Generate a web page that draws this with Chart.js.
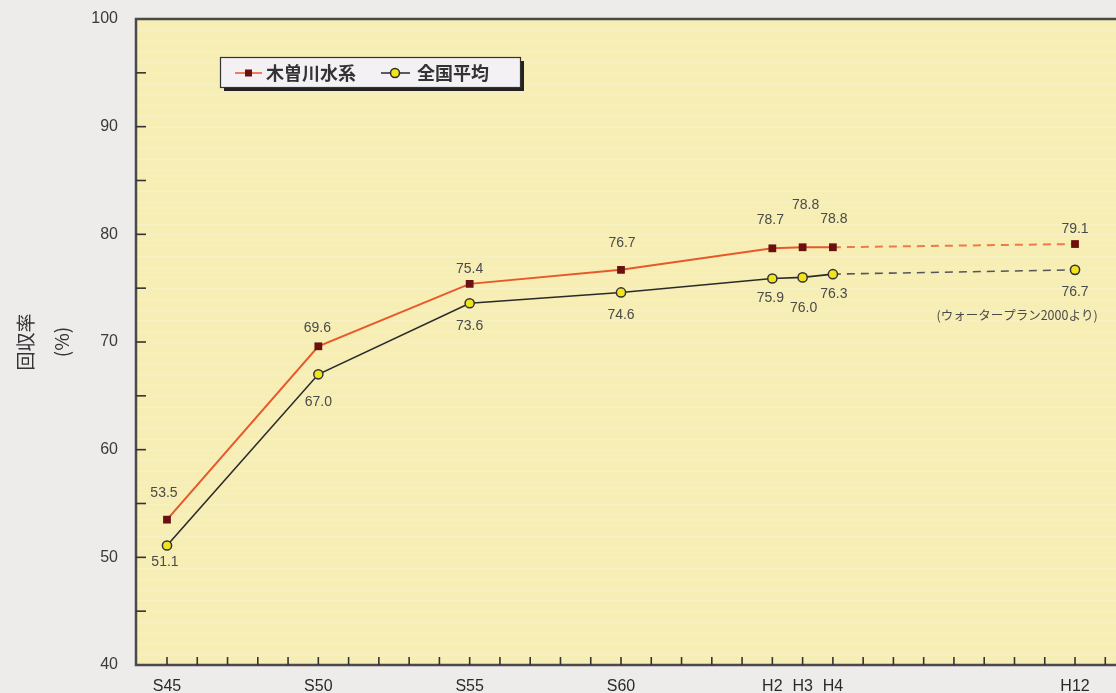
<!DOCTYPE html>
<html>
<head>
<meta charset="utf-8">
<script src="https://cdn.jsdelivr.net/npm/chart.js@4.4.1/dist/chart.umd.min.js"></script>
<style>
  html, body { margin: 0; padding: 0; background: #eeebeb; }
  #wrap { width: 1116px; height: 693px; position: relative; }
</style>
</head>
<body>
<div id="wrap"><canvas id="c"></canvas></div>
<script>
// ---- data ----
const years = [1970, 1975, 1980, 1985, 1990, 1991, 1992, 2000];
const kisoValues = [53.5, 69.6, 75.4, 76.7, 78.7, 78.8, 78.8, 79.1];
const zenkokuValues = [51.1, 67.0, 73.6, 74.6, 75.9, 76.0, 76.3, 76.7];
const seriesNames = ['木曽川水系', '全国平均'];
const tickYears = [1970, 1975, 1980, 1985, 1990, 1991, 1992, 2000];
const tickNames = ['S45', 'S50', 'S55', 'S60', 'H2', 'H3', 'H4', 'H12'];
const yTitle = ['回収率', '(%)'];
const sourceNote = '(ウォータープラン2000より)';

// ---- styling ----
const RED = '#e8582a', RED_DASH = '#ee7a48', RED_MARK = '#6a1010';
const BLK = '#2a2a2a', BLK_DASH = '#555555', YEL = '#f2e41c';
const labelFont = '14px "Liberation Sans", Arial, sans-serif';
const jpFont = '"Noto Sans CJK JP", sans-serif';
const offA = [[-3,-27],[-1,-18],[0,-15],[1,-27],[-2,-28],[3,-42],[1,-28],[0,-15]];
const offB = [[-2,17],[0,28],[0,23],[0,23],[-2,20],[1,31],[1,20],[0,22]];

const dashAfter = years.indexOf(1992);
const toXY = vals => years.map((y, i) => ({x: y, y: vals[i]}));

const bgPlugin = {
  id: 'bg',
  beforeDraw(chart) {
    const {ctx, chartArea: a} = chart;
    ctx.save();
    ctx.fillStyle = '#f6eeb4';
    ctx.fillRect(a.left, a.top, a.right - a.left, a.bottom - a.top);
    // faint paper texture lines
    ctx.strokeStyle = 'rgba(255,255,255,0.18)';
    ctx.lineWidth = 1;
    for (let v = 41; v < 100; v++) {
      const py = Math.round(chart.scales.y.getPixelForValue(v)) + 0.5;
      ctx.beginPath(); ctx.moveTo(a.left, py); ctx.lineTo(a.right, py); ctx.stroke();
    }
    ctx.restore();
  },
  afterDatasetsDraw(chart) {
    const {ctx, chartArea: a, scales} = chart;
    ctx.save();
    // frame
    ctx.strokeStyle = '#4a4a4a';
    ctx.lineWidth = 2.5;
    ctx.beginPath();
    ctx.moveTo(a.right, a.top); ctx.lineTo(a.left, a.top); ctx.lineTo(a.left, a.bottom); ctx.lineTo(a.right, a.bottom);
    ctx.stroke();
    // inward tick marks
    ctx.strokeStyle = '#333';
    ctx.lineWidth = 1.6;
    for (let yr = 1970; yr <= 2001; yr++) {
      const px = scales.x.getPixelForValue(yr);
      ctx.beginPath(); ctx.moveTo(px, a.bottom); ctx.lineTo(px, a.bottom - 8); ctx.stroke();
    }
    for (let v = 45; v <= 95; v += 5) {
      const py = scales.y.getPixelForValue(v);
      ctx.beginPath(); ctx.moveTo(a.left, py); ctx.lineTo(a.left + 10, py); ctx.stroke();
    }
    // value labels
    ctx.font = labelFont;
    ctx.fillStyle = '#4a4a4a';
    ctx.textAlign = 'center';
    ctx.textBaseline = 'middle';
    const m0 = chart.getDatasetMeta(0).data, m1 = chart.getDatasetMeta(1).data;
    m0.forEach((p, i) => ctx.fillText(kisoValues[i].toFixed(1), p.x + offA[i][0], p.y + offA[i][1]));
    m1.forEach((p, i) => ctx.fillText(zenkokuValues[i].toFixed(1), p.x + offB[i][0], p.y + offB[i][1]));
    const last = m1[m1.length - 1];
    ctx.font = '12.5px ' + jpFont;
    ctx.fillText(sourceNote, last.x - 58, last.y + 45);
    // legend
    const lx = a.left + 84, ly = a.top + 38, lw = 300, lh = 30;
    ctx.fillStyle = '#222';
    ctx.fillRect(lx + 4, ly + 4, lw, lh);
    ctx.fillStyle = '#f4f1f4';
    ctx.fillRect(lx, ly, lw, lh);
    ctx.strokeStyle = '#333'; ctx.lineWidth = 1.2;
    ctx.strokeRect(lx + 0.5, ly + 0.5, lw, lh);
    const cy = ly + lh / 2 + 1;
    ctx.strokeStyle = RED; ctx.lineWidth = 1.5;
    ctx.beginPath(); ctx.moveTo(lx + 15, cy); ctx.lineTo(lx + 42, cy); ctx.stroke();
    ctx.fillStyle = RED_MARK; ctx.fillRect(lx + 25, cy - 3.5, 7, 7);
    ctx.strokeStyle = BLK; ctx.lineWidth = 1.5;
    ctx.beginPath(); ctx.moveTo(lx + 161, cy); ctx.lineTo(lx + 190, cy); ctx.stroke();
    ctx.beginPath(); ctx.arc(lx + 175, cy, 4.5, 0, Math.PI * 2);
    ctx.fillStyle = YEL; ctx.fill(); ctx.stroke();
    ctx.fillStyle = '#333';
    ctx.textAlign = 'left';
    ctx.font = 'bold 18px ' + jpFont;
    ctx.fillText(seriesNames[0], lx + 46, cy);
    ctx.fillText(seriesNames[1], lx + 197, cy);
    ctx.restore();
  }
};

new Chart(document.getElementById('c'), {
  type: 'line',
  data: {
    datasets: [
      {
        label: seriesNames[0],
        data: toXY(kisoValues),
        borderColor: RED, borderWidth: 2,
        pointStyle: 'rect', pointRadius: 5.5, pointBackgroundColor: RED_MARK, pointBorderColor: RED_MARK, pointBorderWidth: 0,
        segment: {
          borderDash: ctx => ctx.p0DataIndex >= dashAfter ? [8, 6] : undefined,
          borderColor: ctx => ctx.p0DataIndex >= dashAfter ? RED_DASH : RED
        },
        tension: 0
      },
      {
        label: seriesNames[1],
        data: toXY(zenkokuValues),
        borderColor: BLK, borderWidth: 1.6,
        pointStyle: 'circle', pointRadius: 4.6, pointBackgroundColor: YEL, pointBorderColor: '#333', pointBorderWidth: 1.5,
        segment: {
          borderDash: ctx => ctx.p0DataIndex >= dashAfter ? [8, 6] : undefined,
          borderColor: ctx => ctx.p0DataIndex >= dashAfter ? BLK_DASH : BLK
        },
        tension: 0
      }
    ]
  },
  options: {
    responsive: true,
    maintainAspectRatio: false,
    animation: false,
    layout: { autoPadding: false, padding: { top: 19, left: 0, right: 0, bottom: 0 } },
    plugins: { legend: { display: false }, tooltip: { enabled: false } },
    scales: {
      x: {
        type: 'linear',
        min: 1968.976, max: 2001.354,
        afterFit: s => { s.height = 28; s.paddingLeft = 0; s.paddingRight = 0; },
        grid: { display: false, drawTicks: false },
        border: { display: false },
        ticks: {
          stepSize: 1, includeBounds: false, autoSkip: false, maxRotation: 0,
          padding: 12, color: '#2a2a2a',
          font: { size: 16, family: '"Liberation Sans", Arial, sans-serif' },
          callback: v => { const i = tickYears.indexOf(v); return i >= 0 ? tickNames[i] : ''; }
        }
      },
      y: {
        min: 40, max: 100,
        afterFit: s => { s.width = 136; s.paddingTop = 0; s.paddingBottom = 0; },
        grid: { display: false, drawTicks: false },
        border: { display: false },
        ticks: {
          stepSize: 10, padding: 18, color: '#3a3a3a',
          font: { size: 16, family: '"Liberation Sans", Arial, sans-serif' }
        },
        title: {
          display: true, text: yTitle, color: '#333',
          font: { size: 19, family: jpFont, lineHeight: 1.9 },
          padding: { top: 8, bottom: 0 }
        }
      }
    }
  },
  plugins: [bgPlugin]
});
</script>
</body>
</html>
